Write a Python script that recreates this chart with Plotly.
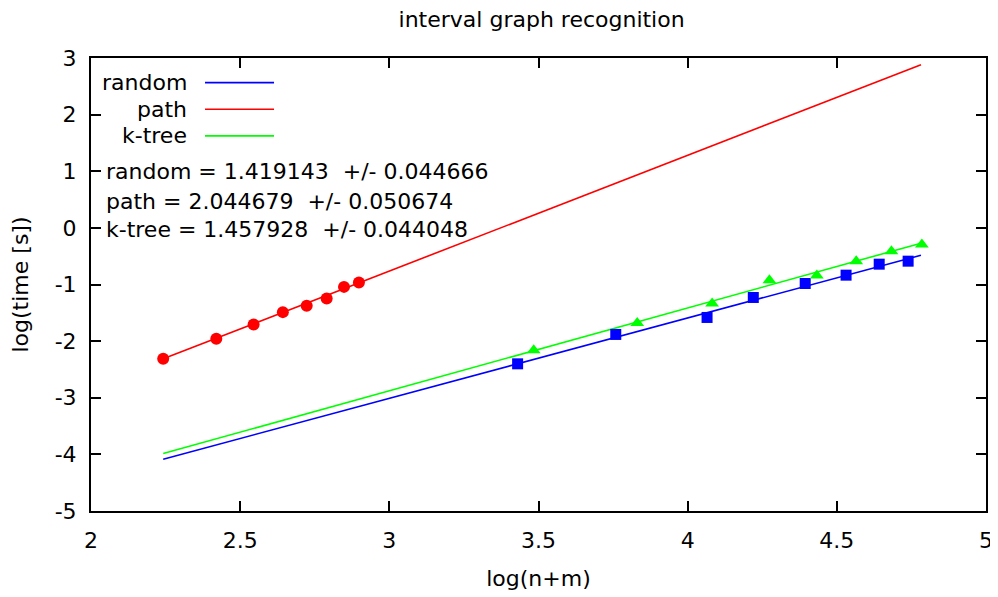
import plotly.graph_objects as go

# ---- data ----
random_x = [3.430, 3.759, 4.065, 4.220, 4.394, 4.531, 4.642, 4.739]
random_y = [-2.401, -1.882, -1.582, -1.229, -0.982, -0.835, -0.641, -0.588]

path_x = [2.242, 2.420, 2.545, 2.643, 2.723, 2.790, 2.848, 2.898]
path_y = [-2.312, -1.959, -1.705, -1.488, -1.377, -1.246, -1.042, -0.964]

ktree_x = [3.484, 3.831, 4.082, 4.274, 4.433, 4.565, 4.683, 4.785]
ktree_y = [-2.159, -1.682, -1.335, -0.924, -0.841, -0.588, -0.412, -0.293]

# fitted lines (end points)
fit_x = [2.242, 4.782]
fit_random_y = [-4.086, -0.482]
fit_path_y = [-2.312, 2.880]
fit_ktree_y = [-3.985, -0.270]

fit_labels = [
    "random = 1.419143  +/- 0.044666",
    "path = 2.044679  +/- 0.050674",
    "k-tree = 1.457928  +/- 0.044048",
]
legend_names = ["random", "path", "k-tree"]
colors = ["#0000ff", "#ff0000", "#00ff00"]

x_ticks = [2, 2.5, 3, 3.5, 4, 4.5, 5]
y_ticks = [-5, -4, -3, -2, -1, 0, 1, 2, 3]

FONT = "DejaVu Sans"
FS = 22

fig = go.Figure()
# fit lines
for fy, c in zip([fit_random_y, fit_path_y, fit_ktree_y], colors):
    fig.add_trace(go.Scatter(x=fit_x, y=fy, mode="lines",
                             line=dict(color=c, width=1.6), showlegend=False,
                             hoverinfo="skip"))
# points
fig.add_trace(go.Scatter(x=random_x, y=random_y, mode="markers", name="random",
                         marker=dict(symbol="square", size=11, color=colors[0]),
                         showlegend=False))
fig.add_trace(go.Scatter(x=path_x, y=path_y, mode="markers", name="path",
                         marker=dict(symbol="circle", size=12, color=colors[1]),
                         showlegend=False))
fig.add_trace(go.Scatter(x=ktree_x, y=ktree_y, mode="markers", name="k-tree",
                         marker=dict(symbol="triangle-up", size=12, color=colors[2]),
                         showlegend=False))

annotations = []
shapes = []
leg_y = [0.9457, 0.8868, 0.8280]
for name, c, yy in zip(legend_names, colors, leg_y):
    annotations.append(dict(x=0.1095, y=yy, xref="paper", yref="paper",
                            text=name, showarrow=False, xanchor="right",
                            yanchor="middle", font=dict(family=FONT, size=FS, color="black")))
    shapes.append(dict(type="line", xref="paper", yref="paper",
                       x0=0.1274, x1=0.2045, y0=yy, y1=yy,
                       line=dict(color=c, width=1.6)))
fit_y = [0.7485, 0.6839, 0.6221]
for t, yy in zip(fit_labels, fit_y):
    annotations.append(dict(x=0.0145, y=yy, xref="paper", yref="paper",
                            text=t, showarrow=False, xanchor="left",
                            yanchor="middle", font=dict(family=FONT, size=FS, color="black")))

axis_common = dict(showline=True, linecolor="black", linewidth=2, mirror="ticks",
                   ticks="inside", ticklen=10, tickwidth=1.5, tickcolor="black",
                   showgrid=False, zeroline=False, automargin=False,
                   tickfont=dict(family=FONT, size=FS, color="black"))

# the page body adds an 8px offset, so the figure is 990x589
fig.update_layout(
    width=990, height=589,
    margin=dict(l=83, r=12, t=50, b=86, autoexpand=False),
    paper_bgcolor="white", plot_bgcolor="white",
    title=dict(text="interval graph recognition", x=0.539, xanchor="center",
               y=0.981, yanchor="middle",
               font=dict(family=FONT, size=FS, color="black")),
    xaxis=dict(range=[2, 5], tickvals=x_ticks, ticktext=[str(v) for v in x_ticks],
               title=dict(text="log(n+m)", standoff=18,
                          font=dict(family=FONT, size=FS, color="black")),
               ticklabelstandoff=9, **axis_common),
    yaxis=dict(range=[-5, 3], tickvals=y_ticks, ticktext=[str(v) for v in y_ticks],
               title=dict(text="log(time [s])", standoff=22,
                          font=dict(family=FONT, size=FS, color="black")),
               ticklabelstandoff=8, **axis_common),
    annotations=annotations,
    shapes=shapes,
)

fig.write_html("out.html")
